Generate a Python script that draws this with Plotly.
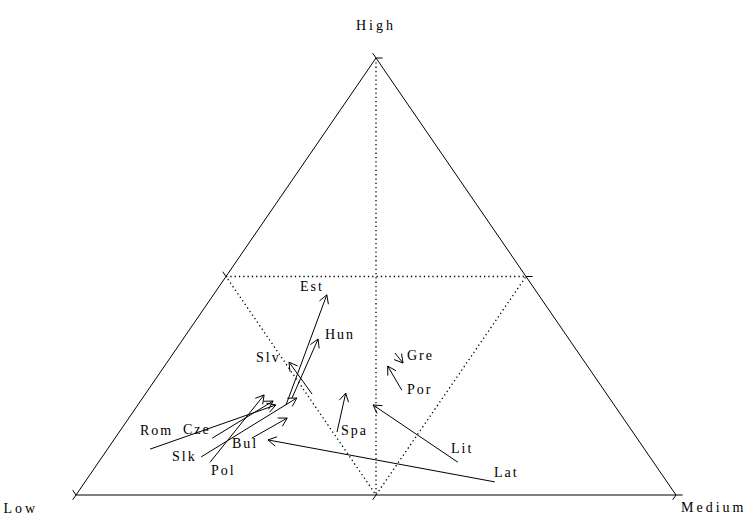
import math
import plotly.graph_objects as go

# Countries and their education shares (%) at the start and end of the period
countries = ["Est", "Hun", "Slv", "Rom", "Cze", "Slk", "Pol", "Bul",
             "Lat", "Lit", "Spa", "Por", "Gre"]

low_start = [54.7, 52.9, 49.1, 82.4, 70.8, 74.8, 73.9, 64.2, 28.7, 32.6, 49.3, 33.7, 30.6]
medium_start = [24.7, 24.9, 27.8, 7.1, 16.2, 16.5, 18.6, 22.8, 68.3, 59.9, 36.3, 42.3, 36.9]
high_start = [20.6, 22.2, 23.1, 10.5, 13.0, 8.7, 7.5, 13.0, 3.0, 7.5, 14.4, 24.0, 32.5]

low_end = [35.3, 41.8, 49.3, 56.4, 56.4, 52.1, 57.2, 56.0, 61.7, 40.2, 43.4, 33.3, 30.4]
medium_end = [18.9, 22.5, 20.3, 23.0, 22.1, 25.7, 19.9, 26.4, 25.7, 39.2, 33.3, 37.2, 39.4]
high_end = [45.8, 35.7, 30.4, 20.6, 21.5, 22.2, 22.9, 17.6, 12.6, 20.6, 23.3, 29.5, 30.2]

vertex_labels = ["Low", "Medium", "High"]
tick_values = [0.0, 0.5, 1.0]

# Label placement: which end of the arrow it sits at, and a pixel offset (right, down)
label_anchor = {
    "Est": ("end", -15, -8), "Hun": ("end", 22, -4), "Slv": ("end", -21, -5),
    "Rom": ("start", 6, -19), "Cze": ("start", -15, -9), "Slk": ("start", -17, 0),
    "Pol": ("start", 13, 8), "Bul": ("start", -7, 5), "Lat": ("start", 12, -9),
    "Lit": ("start", 4, -14), "Spa": ("start", 18, -2), "Por": ("start", 18, -1),
    "Gre": ("end", 17, -8),
}


def proj(low, medium, high):
    """Barycentric shares -> plane coordinates (Low at 0,0; Medium at 1,0; High at 0.5,1)."""
    total = low + medium + high
    m, h = medium / total, high / total
    return m + h / 2.0, h


FONT = dict(family="Liberation Serif, Times New Roman, serif", size=14, color="black")

W, H = 753, 517
x0, x1 = -76 / 600, (W - 76) / 600
y0, y1 = -(H - 495) / 437, 495 / 437
PX = W / (x1 - x0)   # pixels per unit along x
PY = H / (y1 - y0)   # pixels per unit along y

fig = go.Figure()

# Triangle outline
vl = [(1, 0, 0), (0, 1, 0), (0, 0, 1), (1, 0, 0)]
tx, ty = zip(*[proj(*v) for v in vl])
fig.add_trace(go.Scatter(x=tx, y=ty, mode="lines", line=dict(color="black", width=1),
                         hoverinfo="skip", showlegend=False))

# Dotted reference lines: triangle of side midpoints and median from the High vertex
mids = [(0.5, 0, 0.5), (0, 0.5, 0.5), (0.5, 0.5, 0), (0.5, 0, 0.5)]
dx, dy = [], []
for v in mids:
    px, py = proj(*v)
    dx.append(px); dy.append(py)
dx.append(None); dy.append(None)
for v in [(0, 0, 1), (0.5, 0.5, 0)]:
    px, py = proj(*v)
    dx.append(px); dy.append(py)
fig.add_trace(go.Scatter(x=dx, y=dy, mode="lines",
                         line=dict(color="black", width=1.3, dash="1.3px,3px"),
                         hoverinfo="skip", showlegend=False))

# Small outward ticks on each side at 0, 0.5 and 1
t = 0.011
kx, ky = [], []
for v in tick_values:
    segs = [
        ((1 - v, v, 0), (1 - v + t, v, -t)),      # base
        ((0, 1 - v, v), (-t, 1 - v + t, v)),      # right side
        ((1 - v, 0, v), (1 - v, -t, v + t)),      # left side
    ]
    for a, b in segs:
        kx += [a[1] + a[2] / 2.0, b[1] + b[2] / 2.0, None]
        ky += [a[2], b[2], None]
fig.add_trace(go.Scatter(x=kx, y=ky, mode="lines", line=dict(color="black", width=1),
                         hoverinfo="skip", showlegend=False))

# Arrows from start to end composition
sx, sy, ex, ey = [], [], [], []
for i in range(len(countries)):
    a = proj(low_start[i], medium_start[i], high_start[i])
    b = proj(low_end[i], medium_end[i], high_end[i])
    sx.append(a[0]); sy.append(a[1]); ex.append(b[0]); ey.append(b[1])

HEAD_LEN = 9.5                 # px
HEAD_ANGLE = math.radians(30)
ax_, ay_ = [], []
for i in range(len(countries)):
    ax_ += [sx[i], ex[i], None]
    ay_ += [sy[i], ey[i], None]
    # open arrowhead at the end point, built in pixel space
    vx, vy = (sx[i] - ex[i]) * PX, (sy[i] - ey[i]) * PY
    n = math.hypot(vx, vy) or 1.0
    ux, uy = vx / n, vy / n
    for sgn in (1, -1):
        c, s = math.cos(sgn * HEAD_ANGLE), math.sin(sgn * HEAD_ANGLE)
        rx, ry = ux * c - uy * s, ux * s + uy * c
        ax_ += [ex[i], ex[i] + rx * HEAD_LEN / PX, None]
        ay_ += [ey[i], ey[i] + ry * HEAD_LEN / PY, None]
fig.add_trace(go.Scatter(x=ax_, y=ay_, mode="lines",
                         line=dict(color="black", width=1),
                         hoverinfo="skip", showlegend=False))

annotations = []
for i, c in enumerate(countries):
    end, ox, oy = label_anchor[c]
    lx, ly = (ex[i], ey[i]) if end == "end" else (sx[i], sy[i])
    annotations.append(dict(x=lx, y=ly, xref="x", yref="y", text=c, showarrow=False,
                            xshift=ox, yshift=-oy, font=FONT))

# Vertex labels
vertex_pos = [((1, 0, 0), -55, 13), ((0, 1, 0), 38, 12), ((0, 0, 1), 0, -33)]
for name, (v, ox, oy) in zip(vertex_labels, vertex_pos):
    px, py = proj(*v)
    annotations.append(dict(x=px, y=py, xref="x", yref="y", text=name, showarrow=False,
                            xshift=ox, yshift=-oy, font=FONT))

fig.update_layout(
    width=W, height=H,
    margin=dict(l=0, r=0, t=0, b=0),
    paper_bgcolor="white", plot_bgcolor="white",
    xaxis=dict(range=[x0, x1], visible=False, fixedrange=True),
    yaxis=dict(range=[y0, y1], visible=False, fixedrange=True),
    annotations=annotations,
    showlegend=False,
)

spacing_js = """
document.querySelectorAll('.annotation-text').forEach(function (t) {
  var s = t.textContent;
  if (!s) return;
  t.style.letterSpacing = (s === 'Low' || s === 'Medium' || s === 'High') ? '3px' : '2px';
});
"""

fig.write_html("out.html", config={"displayModeBar": False, "staticPlot": True},
               post_script=spacing_js)
